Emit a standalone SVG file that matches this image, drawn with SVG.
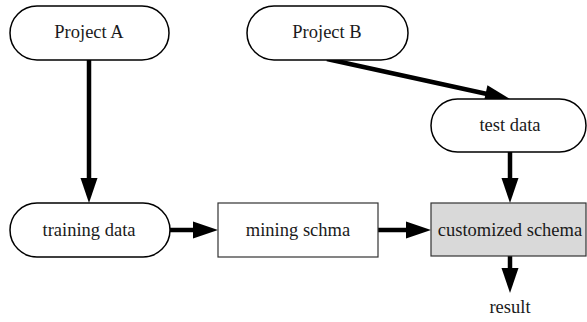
<svg xmlns="http://www.w3.org/2000/svg" width="587" height="322" viewBox="0 0 587 322">
<style>
.stad{fill:#fff;stroke:#000;stroke-width:1.5}
.box{fill:#fff;stroke:#333;stroke-width:1.2}
.gray{fill:#d9d9d9;stroke:#333;stroke-width:1.2}
.t{font-family:"Liberation Serif","Times New Roman",serif;font-size:18.5px;fill:#1a1a1a;text-anchor:middle}
.c{stroke:#000;stroke-width:4.5;fill:none;marker-end:url(#ah)}
</style>
<defs>
<marker id="ah" markerUnits="userSpaceOnUse" markerWidth="25" markerHeight="17" refX="5" refY="8.5" orient="auto" overflow="visible">
<path d="M0,0 L25,8.5 L0,17 z" fill="#000"/>
</marker>
</defs>
<g id="connectors">
<line class="c" x1="89" y1="60" x2="89" y2="183"/>
<line class="c" x1="327" y1="59" x2="490.5" y2="94.7"/>
<line class="c" x1="510" y1="152" x2="510" y2="183"/>
<line class="c" x1="170" y1="230" x2="198" y2="230"/>
<line class="c" x1="378" y1="230" x2="411" y2="230"/>
<line class="c" x1="510" y1="256" x2="510" y2="273"/>
</g>
<g id="projectA">
<rect class="stad" x="10" y="6" width="159" height="54" rx="27" ry="27"/>
<text class="t" x="89" y="38">Project A</text>
</g>
<g id="projectB">
<rect class="stad" x="247" y="6" width="161" height="54" rx="27" ry="27"/>
<text class="t" x="327" y="38">Project B</text>
</g>
<g id="testdata">
<rect class="stad" x="431" y="99" width="155" height="53" rx="26.5" ry="26.5"/>
<text class="t" x="510" y="131">test data</text>
</g>
<g id="trainingdata">
<rect class="stad" x="10" y="203" width="160" height="54" rx="27" ry="27"/>
<text class="t" x="89" y="236">training data</text>
</g>
<g id="miningschma">
<rect class="box" x="218" y="203" width="160" height="54"/>
<text class="t" x="298" y="236">mining schma</text>
</g>
<g id="customizedschema">
<rect class="gray" x="431" y="203" width="155" height="53"/>
<text class="t" x="510" y="236">customized schema</text>
</g>
<g id="result">
<text class="t" x="510" y="313">result</text>
</g>
</svg>
